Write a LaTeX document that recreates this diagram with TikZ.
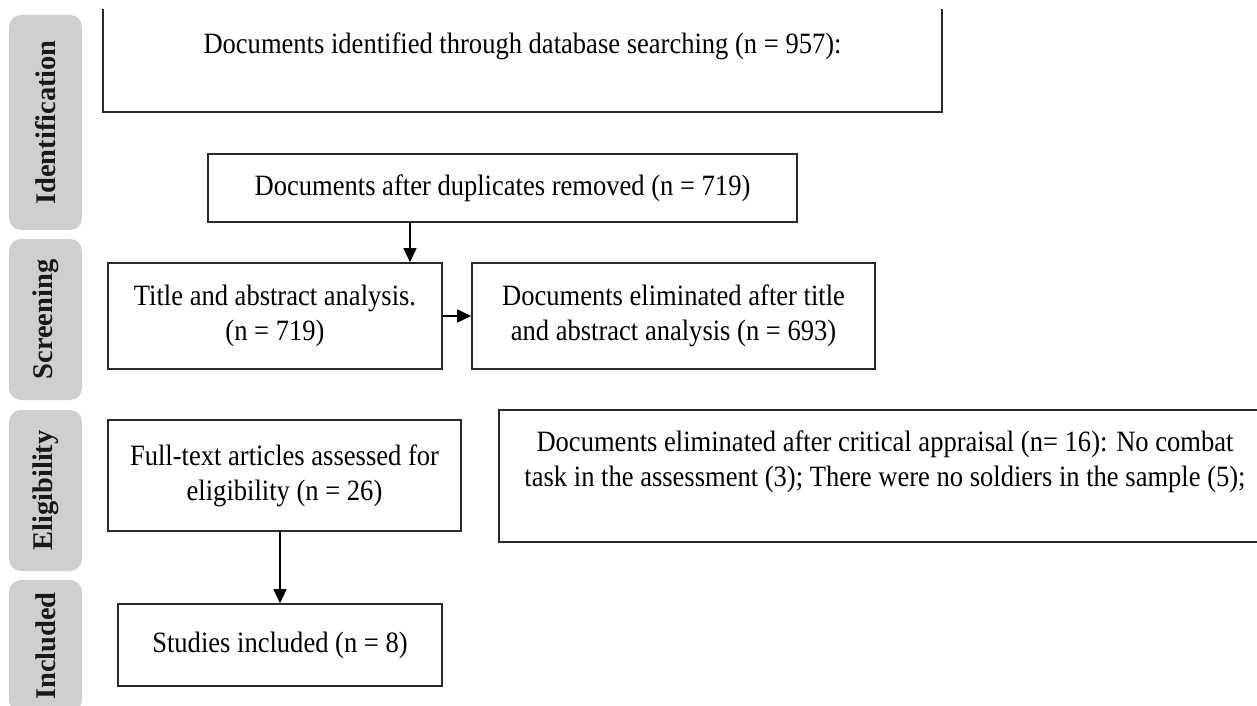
\documentclass[tikz,border=0pt]{standalone}
\usepackage{fontspec}
\setmainfont{Liberation Serif}
\newfontfamily\boxfont{Liberation Serif}[FakeStretch=0.9]
\usetikzlibrary{arrows.meta}
\definecolor{tabgray}{HTML}{CFCFCF}
\definecolor{boxline}{HTML}{2A2A2A}

\begin{document}
\begin{tikzpicture}[x=1pt, y=-1pt,
    box/.style={draw=boxline, line width=1.6pt, align=center, inner sep=0pt,
      font=\boxfont\fontsize{29.5}{35}\selectfont},
    tab/.style={fill=tabgray, rounded corners=12pt, minimum height=73pt,
      font=\fontsize{28.5}{32}\selectfont\bfseries, text=black!90},
    arr/.style={line width=1.3pt, -{Triangle[length=14pt,width=13pt]}}]
  \useasboundingbox (0,0) rectangle (1257,706);
  \clip (0,10) rectangle (1257,706);
  % stage tabs on the left
  \foreach \name/\y/\h [count=\i] in {Identification/122.5/215, Screening/319.5/161,
      Eligibility/490.5/161, Included/646/132}{
    \node[tab, minimum width=\h pt, rotate=90] (tab-\i) at (45.5,\y) {\name};
  }
  % boxes
  \node[box, minimum width=839pt, minimum height=132pt] (ident) at (522.5,46)
    {Documents identified through database searching (n = 957):};
  \node[box, minimum width=589pt, minimum height=68pt] (dup) at (502.5,188)
    {Documents after duplicates removed (n = 719)};
  \node[box, minimum width=334pt, minimum height=106pt] (title) at (275,316)
    {Title and abstract analysis.\\(n = 719)};
  \node[box, minimum width=403pt, minimum height=106pt] (elim) at (673.5,316)
    {Documents eliminated after title\\and abstract analysis (n = 693)};
  \node[box, minimum width=353pt, minimum height=111pt] (full) at (284.5,475.5)
    {Full-text articles assessed for\\eligibility (n = 26)};
  \node[box, minimum width=324pt, minimum height=82pt] (stud) at (280,645)
    {Studies included (n = 8)};
  \node[box, minimum width=772pt, minimum height=132pt] (crit) at (885,476)
    {Documents eliminated after critical appraisal (n= 16): No combat\\
     task in the assessment (3); There were no soldiers in the sample (5);\\~};
  % arrows
  \coordinate (a1) at (410,222);
  \draw[arr] (a1) -- (a1 |- title.north);
  \draw[arr] (title.east) -- (elim.west);
  \draw[arr] (full.south -| stud.north) -- (stud.north);
\end{tikzpicture}
\end{document}
